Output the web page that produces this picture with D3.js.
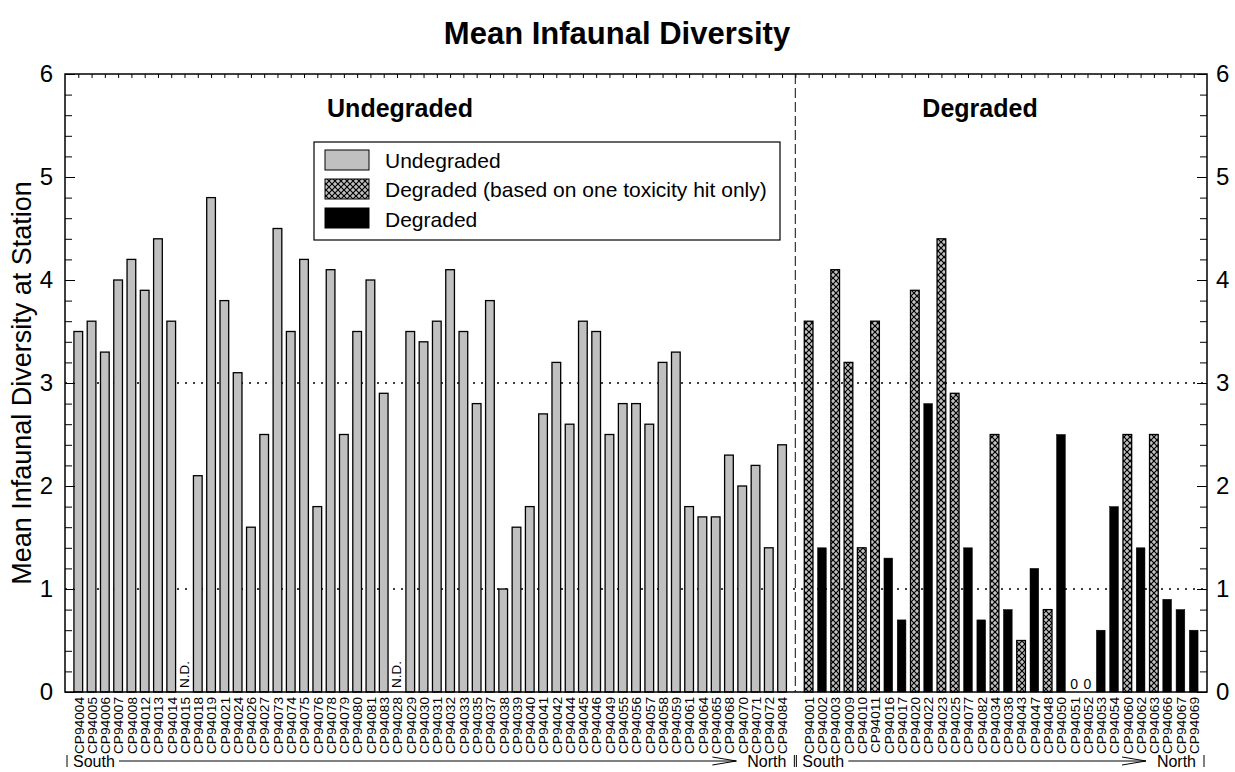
<!DOCTYPE html>
<html>
<head>
<meta charset="utf-8">
<script src="https://cdn.jsdelivr.net/npm/d3@7"></script>
<style>
  body { margin: 0; background: #fff; }
  svg { font-family: "Liberation Sans", Arial, sans-serif; }
</style>
</head>
<body>
<div id="chart"></div>
<script>
// stations, south -> north, in each group
var undegStations = ["CP94004","CP94005","CP94006","CP94007","CP94008","CP94012","CP94013","CP94014","CP94015","CP94018",
    "CP94019","CP94021","CP94024","CP94026","CP94027","CP94073","CP94074","CP94075","CP94076","CP94078",
    "CP94079","CP94080","CP94081","CP94083","CP94028","CP94029","CP94030","CP94031","CP94032","CP94033",
    "CP94035","CP94037","CP94038","CP94039","CP94040","CP94041","CP94042","CP94044","CP94045","CP94046",
    "CP94049","CP94055","CP94056","CP94057","CP94058","CP94059","CP94061","CP94064","CP94065","CP94068",
    "CP94070","CP94071","CP94072","CP94084"];
// null = N.D. (no data)
var undegValues = [3.5,3.6,3.3,4.0,4.2,3.9,4.4,3.6,null,2.1,
    4.8,3.8,3.1,1.6,2.5,4.5,3.5,4.2,1.8,4.1,
    2.5,3.5,4.0,2.9,null,3.5,3.4,3.6,4.1,3.5,
    2.8,3.8,1.0,1.6,1.8,2.7,3.2,2.6,3.6,3.5,
    2.5,2.8,2.8,2.6,3.2,3.3,1.8,1.7,1.7,2.3,
    2.0,2.2,1.4,2.4];

var degStations = ["CP94001","CP94002","CP94003","CP94009","CP94010","CP94011","CP94016","CP94017","CP94020","CP94022",
    "CP94023","CP94025","CP94077","CP94082","CP94034","CP94036","CP94043","CP94047","CP94048","CP94050",
    "CP94051","CP94052","CP94053","CP94054","CP94060","CP94062","CP94063","CP94066","CP94067","CP94069"];
var degValues = [3.6,1.4,4.1,3.2,1.4,3.6,1.3,0.7,3.9,2.8,
    4.4,2.9,1.4,0.7,2.5,0.8,0.5,1.2,0.8,2.5,
    0,0,0.6,1.8,2.5,1.4,2.5,0.9,0.8,0.6];
// "one" = degraded based on one toxicity hit only, "deg" = degraded
var degTypes = ["one","deg","one","one","one","one","deg","deg","one","deg",
    "one","one","deg","deg","one","deg","one","deg","one","deg",
    "deg","deg","deg","deg","one","deg","one","deg","deg","deg"];

var yTicks = [0,1,2,3,4,5,6];
var refLines = [1,3];
var legendItems = ["Undegraded","Degraded (based on one toxicity hit only)","Degraded"];

var data = [];
undegStations.forEach(function (s, i) {
    data.push({ station: s, value: undegValues[i], type: "undeg" });
});
data.push({ station: "gap", value: null, type: "gap" });
degStations.forEach(function (s, i) {
    data.push({ station: s, value: degValues[i], type: degTypes[i] });
});

var W = 1235, H = 772;
var margin = { top: 74, right: 28, bottom: 80, left: 65 },
    width = W - margin.left - margin.right,
    height = H - margin.top - margin.bottom;

var svg = d3.select("#chart").append("svg")
    .attr("width", W).attr("height", H);

var defs = svg.append("defs");
var pat = defs.append("pattern")
    .attr("id", "hatch")
    .attr("patternUnits", "userSpaceOnUse")
    .attr("width", 6).attr("height", 6);
pat.append("rect").attr("width", 6).attr("height", 6).attr("fill", "#c0c0c0");
pat.append("path")
    .attr("d", "M0,0L6,6M6,0L0,6")
    .attr("stroke", "#000").attr("stroke-width", 1.2);

var g = svg.append("g")
    .attr("transform", "translate(" + margin.left + "," + margin.top + ")");

var x = d3.scalePoint()
    .domain(data.map(function (d) { return d.station; }))
    .range([0, width])
    .padding(1);

var y = d3.scaleLinear().domain([0, 6]).range([height, 0]);

// reference lines
g.selectAll(".ref")
    .data(refLines)
    .enter().append("line")
    .attr("x1", 0).attr("x2", width)
    .attr("y1", function (d) { return y(d); })
    .attr("y2", function (d) { return y(d); })
    .attr("stroke", "#000")
    .attr("stroke-width", 1.4)
    .attr("stroke-dasharray", "2,6");

// divider between the two groups
g.append("line")
    .attr("x1", x("gap")).attr("x2", x("gap"))
    .attr("y1", 0).attr("y2", height)
    .attr("stroke", "#333")
    .attr("stroke-width", 1.2)
    .attr("stroke-dasharray", "10,4");

var barW = 8.7;

g.selectAll(".bar")
    .data(data.filter(function (d) { return d.value !== null && d.type !== "gap" && d.value > 0; }))
    .enter().append("rect")
    .attr("class", "bar")
    .attr("x", function (d) { return x(d.station) - barW / 2; })
    .attr("y", function (d) { return y(d.value); })
    .attr("width", barW)
    .attr("height", function (d) { return height - y(d.value); })
    .attr("fill", function (d) {
        if (d.type === "undeg") return "#c0c0c0";
        if (d.type === "one") return "url(#hatch)";
        return "#000";
    })
    .attr("stroke", "#000")
    .attr("stroke-width", function (d) { return d.type === "deg" ? 0.5 : 1.3; });

// N.D. labels
g.selectAll(".nd")
    .data(data.filter(function (d) { return d.type === "undeg" && d.value === null; }))
    .enter().append("text")
    .attr("transform", function (d) {
        return "translate(" + (x(d.station) + 4.5) + "," + (height - 4) + ") rotate(-90)";
    })
    .style("font-size", "13.5px")
    .text("N.D.");

// zero labels
g.selectAll(".zero")
    .data(data.filter(function (d) { return d.value === 0; }))
    .enter().append("text")
    .attr("x", function (d) { return x(d.station); })
    .attr("y", height - 3)
    .attr("text-anchor", "middle")
    .style("font-size", "14px")
    .text("0");

// axes: minor and major ticks inward on both sides
var minorTicks = d3.range(0, 6.01, 0.2);
var fmt = d3.format("d");
g.append("g")
    .call(d3.axisLeft(y).tickValues(minorTicks).tickSize(-7).tickFormat(""))
    .call(function (a) { a.select(".domain").remove(); });
g.append("g")
    .call(d3.axisLeft(y).tickValues(yTicks).tickSize(-10).tickPadding(12).tickFormat(fmt))
    .call(function (a) {
        a.select(".domain").remove();
        a.selectAll("text").style("font-size", "24px").style("font-family", "Liberation Sans, Arial, sans-serif");
    });
g.append("g")
    .attr("transform", "translate(" + width + ",0)")
    .call(d3.axisRight(y).tickValues(minorTicks).tickSize(-7).tickFormat(""))
    .call(function (a) { a.select(".domain").remove(); });
g.append("g")
    .attr("transform", "translate(" + width + ",0)")
    .call(d3.axisRight(y).tickValues(yTicks).tickSize(-10).tickPadding(9).tickFormat(fmt))
    .call(function (a) {
        a.select(".domain").remove();
        a.selectAll("text").style("font-size", "24px").style("font-family", "Liberation Sans, Arial, sans-serif");
    });

// top ticks at each station
g.append("g")
    .call(d3.axisTop(x).tickSize(-4).tickFormat(""))
    .call(function (a) { a.select(".domain").remove(); });

// station labels
var xAxis = g.append("g")
    .attr("transform", "translate(0," + height + ")")
    .call(d3.axisBottom(x).tickSize(0).tickFormat(function (d) { return d === "gap" ? "" : d; }));
xAxis.select(".domain").remove();
xAxis.selectAll("text")
    .attr("transform", "rotate(-90)")
    .attr("x", -5).attr("y", 0)
    .attr("dy", "0.35em")
    .attr("text-anchor", "end")
    .style("font-size", "13.7px")
    .style("font-family", "Liberation Sans, Arial, sans-serif");

// frame
g.append("rect")
    .attr("width", width).attr("height", height)
    .attr("fill", "none").attr("stroke", "#000").attr("stroke-width", 1.5);

// South -> North under each group
function direction(x0, x1) {
    var yy = height + 69;
    var d = g.append("g");
    d.append("line").attr("x1", x0).attr("x2", x0).attr("y1", yy - 6).attr("y2", yy + 6)
        .attr("stroke", "#000").attr("stroke-width", 1);
    d.append("line").attr("x1", x1).attr("x2", x1).attr("y1", yy - 6).attr("y2", yy + 6)
        .attr("stroke", "#000").attr("stroke-width", 1);
    d.append("text").attr("x", x0 + 6).attr("y", yy + 6).style("font-size", "16px").text("South");
    d.append("text").attr("x", x1 - 8).attr("y", yy + 6).attr("text-anchor", "end")
        .style("font-size", "16px").text("North");
    var a0 = x0 + 52, a1 = x1 - 58;
    d.append("line").attr("x1", a0).attr("x2", a1).attr("y1", yy).attr("y2", yy)
        .attr("stroke", "#000").attr("stroke-width", 1);
    d.append("path")
        .attr("d", "M" + (a1 - 24) + "," + (yy - 4) + "L" + a1 + "," + yy + "L" + (a1 - 24) + "," + (yy + 4))
        .attr("fill", "none").attr("stroke", "#000").attr("stroke-width", 1);
}
direction(2, x("gap") - 1);
direction(x("gap") + 1, width - 3);

// group headings
g.append("text")
    .attr("x", 400 - margin.left)
    .attr("y", 43)
    .attr("text-anchor", "middle")
    .style("font-size", "25px").style("font-weight", "bold")
    .text("Undegraded");
g.append("text")
    .attr("x", 980 - margin.left)
    .attr("y", 43)
    .attr("text-anchor", "middle")
    .style("font-size", "25px").style("font-weight", "bold")
    .text("Degraded");

// legend
var legend = svg.append("g").attr("transform", "translate(314,142)");
legend.append("rect")
    .attr("width", 466).attr("height", 98)
    .attr("fill", "#fff").attr("stroke", "#000").attr("stroke-width", 1.2);
var legFill = ["#c0c0c0", "url(#hatch)", "#000"];
legendItems.forEach(function (t, i) {
    legend.append("rect")
        .attr("x", 11).attr("y", 8 + i * 29)
        .attr("width", 44).attr("height", 20)
        .attr("fill", legFill[i]).attr("stroke", "#000").attr("stroke-width", 1);
    legend.append("text")
        .attr("x", 71).attr("y", 25.5 + i * 29.5)
        .style("font-size", "21px")
        .text(t);
});

// title
svg.append("text")
    .attr("x", 617).attr("y", 44)
    .attr("text-anchor", "middle")
    .style("font-size", "31px").style("font-weight", "bold")
    .text("Mean Infaunal Diversity");

svg.append("text")
    .attr("transform", "translate(31," + (margin.top + height / 2) + ") rotate(-90)")
    .attr("text-anchor", "middle")
    .style("font-size", "27px")
    .text("Mean Infaunal Diversity at Station");
</script>
</body>
</html>
